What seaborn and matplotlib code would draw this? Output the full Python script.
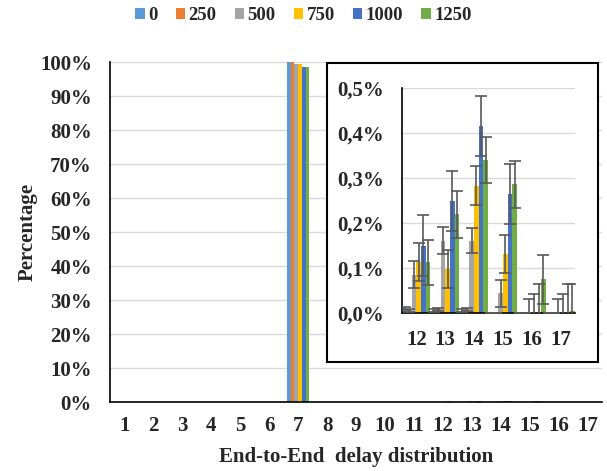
import pandas as pd
import seaborn as sns
import matplotlib.pyplot as plt
from matplotlib.patches import Rectangle

# delay bins and load levels
categories = [str(i) for i in range(1, 18)]
series = ['0', '250', '500', '750', '1000', '1250']
colors = ['#5B9BD5', '#ED7D31', '#A5A5A5', '#FFC000', '#4472C4', '#70AD47']

# percentage per delay bin (1..17) for each load level
v0 = [0, 0, 0, 0, 0, 0, 99.9, 0, 0, 0, 0, 0.010, 0.005, 0.005, 0.0, 0.0, 0.0]
v250 = [0, 0, 0, 0, 0, 0, 99.9, 0, 0, 0, 0, 0.006, 0.008, 0.008, 0.0, 0.0, 0.0]
v500 = [0, 0, 0, 0, 0, 0, 99.5, 0, 0, 0, 0, 0.085, 0.161, 0.161, 0.044, 0.0, 0.0]
v750 = [0, 0, 0, 0, 0, 0, 99.4, 0, 0, 0, 0, 0.113, 0.098, 0.283, 0.131, 0.0, 0.0]
v1000 = [0, 0, 0, 0, 0, 0, 98.6, 0, 0, 0, 0, 0.150, 0.249, 0.416, 0.264, 0.0, 0.0]
v1250 = [0, 0, 0, 0, 0, 0, 98.4, 0, 0, 0, 0, 0.113, 0.219, 0.340, 0.286, 0.075, 0.005]

# error bars for the zoomed bins 12..17
inset_cats = ['12', '13', '14', '15', '16', '17']
e0 = [0.003, 0.003, 0.003, 0.0, 0.0, 0.0]
e250 = [0.004, 0.004, 0.004, 0.0, 0.0, 0.0]
e500 = [0.030, 0.030, 0.028, 0.030, 0.032, 0.032]
e750 = [0.042, 0.042, 0.044, 0.043, 0.043, 0.043]
e1000 = [0.067, 0.067, 0.066, 0.067, 0.065, 0.065]
e1250 = [0.050, 0.052, 0.052, 0.052, 0.055, 0.060]

values = [v0, v250, v500, v750, v1000, v1250]
errors = [e0, e250, e500, e750, e1000, e1250]

rows = []
for s, vals in zip(series, values):
    for c, v in zip(categories, vals):
        rows.append({'cat': c, 'series': s, 'value': v})
df = pd.DataFrame(rows)
df_in = df[df['cat'].isin(inset_cats)]

sns.set_style('white')
plt.rcParams['font.family'] = ['Liberation Serif', 'DejaVu Serif']
plt.rcParams['font.weight'] = 'bold'

fig = plt.figure(figsize=(6.07, 4.71), dpi=100)
W, H = 607, 471

ax = fig.add_axes([110 / W, 1 - 402 / H, (602 - 110) / W, (402 - 62) / H])
sns.barplot(data=df, x='cat', y='value', hue='series', order=categories,
            hue_order=series, palette=colors, width=0.77, errorbar=None,
            saturation=1, linewidth=0, ax=ax)
ax.set_ylim(0, 100)
ax.set_xlim(-0.5, 16.5)
ax.set_yticks(range(0, 101, 10))
ax.set_yticklabels([f'{t}%' for t in range(0, 101, 10)])
ax.yaxis.grid(True, color='#D9D9D9', lw=1)
ax.set_axisbelow(True)
for sp in ['top', 'right']:
    ax.spines[sp].set_visible(False)
for sp in ['left', 'bottom']:
    ax.spines[sp].set_color('black')
    ax.spines[sp].set_linewidth(1.2)
ax.tick_params(length=0, labelsize=15)
ax.tick_params(axis='y', pad=13)
ax.tick_params(axis='x', pad=10)
ax.set_xlabel('End-to-End  delay distribution', fontsize=15, fontweight='bold', labelpad=8)
ax.set_ylabel('Percentage', fontsize=15, fontweight='bold', labelpad=2)

sns.move_legend(ax, 'upper center', bbox_to_anchor=(0.5, 1.02),
                bbox_transform=fig.transFigure, ncol=6, frameon=False,
                title=None, fontsize=13.5, handlelength=0.5, handleheight=0.5,
                handletextpad=0.2, columnspacing=0.95)

# white framed box behind the inset
box = Rectangle((327 / W, 1 - 362 / H), (598 - 327) / W, (362 - 63) / H,
                transform=fig.transFigure, facecolor='white', edgecolor='black',
                lw=1.5, zorder=5)
fig.patches.append(box)

ax2 = fig.add_axes([402 / W, 1 - 313 / H, (575 - 402) / W, (313 - 88) / H])
ax2.set_zorder(10)
sns.barplot(data=df_in, x='cat', y='value', hue='series', order=inset_cats,
            hue_order=series, palette=colors, width=0.97, errorbar=None,
            saturation=1, linewidth=0, legend=False, ax=ax2)
for cont, err in zip(ax2.containers, errors):
    xs = [p.get_x() + p.get_width() / 2 for p in cont.patches]
    ys = [p.get_height() for p in cont.patches]
    ax2.errorbar(xs, ys, yerr=err, fmt='none', ecolor='#595959',
                 elinewidth=1.2, capsize=4, capthick=1.2, zorder=4)
ax2.set_ylim(0, 0.5)
ax2.set_xlim(-0.5, 5.5)
ax2.set_yticks([0, 0.1, 0.2, 0.3, 0.4, 0.5])
ax2.set_yticklabels([f'{t:.1f}%'.replace('.', ',') for t in [0, 0.1, 0.2, 0.3, 0.4, 0.5]])
ax2.yaxis.grid(True, color='#D9D9D9', lw=1)
ax2.set_axisbelow(True)
for sp in ['top', 'right']:
    ax2.spines[sp].set_visible(False)
for sp in ['left', 'bottom']:
    ax2.spines[sp].set_color('black')
    ax2.spines[sp].set_linewidth(1.2)
ax2.tick_params(length=0, labelsize=15)
ax2.tick_params(axis='y', pad=13)
ax2.tick_params(axis='x', pad=12)
ax2.set_xlabel('')
ax2.set_ylabel('')

fig.savefig('out.png', dpi=100)
